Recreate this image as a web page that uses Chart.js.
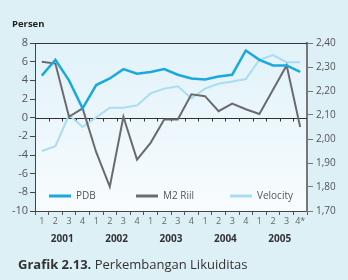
<!DOCTYPE html>
<html>
<head>
<meta charset="utf-8">
<script src="https://cdn.jsdelivr.net/npm/chart.js@4.4.1/dist/chart.umd.min.js"></script>
<style>
  html, body { margin: 0; padding: 0; background: #dcf0f6; }
  #wrap { position: relative; width: 348px; height: 280px; overflow: hidden; }
  #chart { position: absolute; left: 0; top: 0; }
  #unit { position: absolute; left: 12px; top: 17px; font: bold 9.5px "Open Sans", sans-serif; color: #222; }
  #caption { position: absolute; left: 18px; top: 255px; font: 13px "Open Sans", sans-serif; color: #333; white-space: nowrap; }
  #caption b { font-weight: bold; }
</style>
</head>
<body>
<div id="wrap">
  <canvas id="chart" width="348" height="280"></canvas>
  <div id="unit">Persen</div>
  <div id="caption"><b>Grafik 2.13.</b> Perkembangan Likuiditas</div>
</div>
<script>
// ====== DATA ======
const quarters = ["1","2","3","4","1","2","3","4","1","2","3","4","1","2","3","4","1","2","3","4*"];
const years = ["2001","2002","2003","2004","2005"];
const pdb = [4.5, 6.2, 4.0, 1.0, 3.5, 4.2, 5.2, 4.7, 4.9, 5.2, 4.6, 4.2, 4.1, 4.4, 4.6, 7.2, 6.2, 5.6, 5.6, 4.9];
const m2Riil = [6.0, 5.8, 0.1, 1.0, -3.7, -7.4, 0.1, -4.5, -2.7, -0.2, -0.2, 2.5, 2.3, 0.7, 1.5, 0.9, 0.4, 3.0, 5.6, -1.0];
const velocity = [1.95, 1.97, 2.10, 2.05, 2.09, 2.13, 2.13, 2.14, 2.19, 2.21, 2.22, 2.17, 2.21, 2.23, 2.24, 2.25, 2.33, 2.35, 2.32, 2.32];
const leftTicks = { min: -10, max: 8, step: 2 };
const rightTicks = { min: 1.7, max: 2.4, step: 0.1 };

// ====== STYLE ======
const C_PDB = "#1ba8dd";
const C_M2 = "#6a6b6e";
const C_VEL = "#aadcf2";
const FONT = "'Open Sans', sans-serif";

// ====== PLUGIN: backdrop, zero line, years, legend ======
const decor = {
  id: "decor",
  beforeDraw(chart) {
    const { ctx, chartArea: a } = chart;
    ctx.save();
    const g = ctx.createLinearGradient(0, a.top, 0, a.bottom);
    g.addColorStop(0, "#e1f2f9");
    g.addColorStop(1, "#f8fcfe");
    ctx.fillStyle = g;
    ctx.fillRect(a.left, a.top, a.right - a.left, a.bottom - a.top);
    ctx.restore();
  },
  beforeDatasetsDraw(chart) {
    const { ctx, chartArea: a, scales } = chart;
    const y0 = Math.round(scales.y.getPixelForValue(0)) + 0.5;
    ctx.save();
    ctx.strokeStyle = "#333";
    ctx.lineWidth = 1;
    ctx.beginPath();
    ctx.moveTo(a.left, y0); ctx.lineTo(a.right, y0);
    // small ticks below zero line at category boundaries
    const w = (a.right - a.left) / quarters.length;
    for (let i = 1; i < quarters.length; i++) {
      const x = Math.round(a.left + i * w) + 0.5;
      ctx.moveTo(x, y0); ctx.lineTo(x, y0 + 3);
    }
    // top border
    ctx.moveTo(a.left, a.top + 0.5); ctx.lineTo(a.right, a.top + 0.5);
    ctx.stroke();
    ctx.restore();
  },
  afterDraw(chart) {
    const { ctx, scales } = chart;
    ctx.save();
    // year labels under each group of four quarters
    ctx.font = "bold 10px " + FONT;
    ctx.fillStyle = "#333";
    ctx.textAlign = "center";
    ctx.textBaseline = "middle";
    years.forEach((yr, k) => {
      const x1 = scales.x.getPixelForValue(k * 4);
      const x2 = scales.x.getPixelForValue(k * 4 + 3);
      ctx.fillText(yr, (x1 + x2) / 2, 239);
    });
    // legend inside plot
    const items = [
      { label: "PDB", color: C_PDB, x: 49 },
      { label: "M2 Riil", color: C_M2, x: 136 },
      { label: "Velocity", color: C_VEL, x: 230 }
    ];
    ctx.font = "10px " + FONT;
    ctx.textAlign = "left";
    items.forEach(it => {
      ctx.strokeStyle = it.color;
      ctx.lineWidth = 3;
      ctx.beginPath();
      ctx.moveTo(it.x, 196); ctx.lineTo(it.x + 22, 196);
      ctx.stroke();
      ctx.fillStyle = "#555";
      ctx.fillText(it.label, it.x + 27, 196);
    });
    ctx.restore();
  }
};

// ====== CHART ======
new Chart(document.getElementById("chart"), {
  type: "line",
  data: {
    labels: quarters,
    datasets: [
      { label: "Velocity", data: velocity, yAxisID: "y1", borderColor: C_VEL, borderWidth: 2, order: 3 },
      { label: "M2 Riil", data: m2Riil, yAxisID: "y", borderColor: C_M2, borderWidth: 2, order: 2 },
      { label: "PDB", data: pdb, yAxisID: "y", borderColor: C_PDB, borderWidth: 2.5, order: 1 }
    ]
  },
  options: {
    responsive: false,
    animation: false,
    layout: { padding: { top: 43, left: 0, right: 0, bottom: 0 } },
    elements: { point: { radius: 0 }, line: { tension: 0 } },
    plugins: { legend: { display: false }, tooltip: { enabled: false } },
    scales: {
      x: {
        offset: true,
        grid: { offset: true, drawOnChartArea: false, tickLength: 4, color: "#555" },
        border: { color: "#444", width: 1 },
        ticks: { autoSkip: false, maxRotation: 0, padding: 1, color: "#666", font: { family: FONT, size: 9 } },
        afterFit(s) { s.height = 69; }
      },
      y: {
        position: "left",
        min: leftTicks.min, max: leftTicks.max,
        grid: { drawOnChartArea: false, tickLength: 5, color: "#444" },
        border: { color: "#444", width: 1 },
        ticks: { stepSize: leftTicks.step, padding: 2, color: "#555", font: { family: FONT, size: 11 } },
        afterFit(s) { s.width = 35; }
      },
      y1: {
        position: "right",
        min: rightTicks.min, max: rightTicks.max,
        grid: { drawOnChartArea: false, tickLength: 6, color: "#777" },
        border: { color: "#777", width: 2 },
        ticks: {
          stepSize: rightTicks.step, padding: 3, color: "#555",
          font: { family: FONT, size: 10 },
          callback: v => Number(v).toFixed(2).replace(".", ",")
        },
        afterFit(s) { s.width = 41; }
      }
    }
  },
  plugins: [decor]
});
</script>
</body>
</html>
